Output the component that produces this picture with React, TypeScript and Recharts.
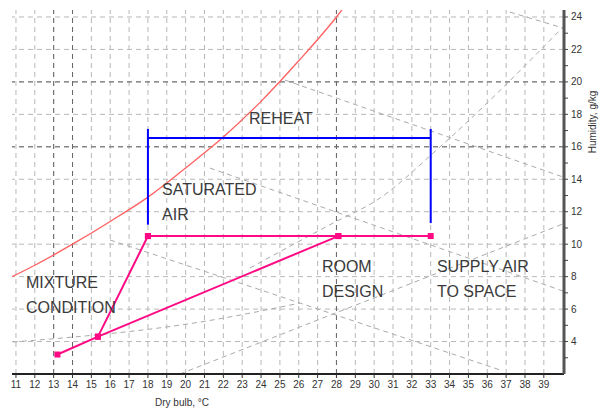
import { ComposedChart, Line, XAxis, YAxis, ReferenceLine, Scatter } from "recharts";

// psychrometric sketch: dry bulb (°C) vs humidity ratio (g/kg)
const dryBulbTicks = [11, 12, 13, 14, 15, 16, 17, 18, 19, 20, 21, 22, 23, 24, 25, 26, 27, 28, 29, 30, 31, 32, 33, 34, 35, 36, 37, 38, 39];
const humidityTicks = [3, 4, 5, 6, 7, 8, 9, 10, 11, 12, 13, 14, 15, 16, 17, 18, 19, 20, 21, 22, 23, 24];
const gridX = dryBulbTicks;
const gridY = [4, 6, 8, 10, 12, 14, 16, 18, 20, 22, 24];
const darkGridX = [13, 14, 28];
const darkGridY = [16, 20];

const saturation = [
  { x: 10.8, y: 8.0 },
  { x: 12, y: 8.7 },
  { x: 14, y: 10.0 },
  { x: 16, y: 11.4 },
  { x: 18, y: 12.9 },
  { x: 20, y: 14.7 },
  { x: 22, y: 16.6 },
  { x: 24, y: 18.8 },
  { x: 26, y: 21.3 },
  { x: 28, y: 24.0 },
  { x: 28.4, y: 24.6 },
];

// faint background lines (wet bulb / RH guides)
const guideLines = [
  [{ x: 37.2, y: 24.3 }, { x: 40.02, y: 23.32 }],
  [{ x: 25.27, y: 20.11 }, { x: 40.02, y: 14.14 }],
  [{ x: 21.29, y: 14.69 }, { x: 40.02, y: 7.11 }],
  [{ x: 15.99, y: 10.26 }, { x: 26.07, y: 6.37 }, { x: 36.68, y: 2.25 }],
  [{ x: 23.41, y: 8.53 }, { x: 27.82, y: 11.3 }, { x: 30.15, y: 12.72 }, { x: 33.49, y: 15.99 }, { x: 40.02, y: 23.38 }],
  [{ x: 19.7, y: 2.0 }, { x: 26.07, y: 4.9 }, { x: 40.02, y: 11.25 }],
  [{ x: 10.84, y: 3.97 }, { x: 20.76, y: 5.2 }, { x: 26.07, y: 6.37 }],
];

const mixingLine = [{ x: 13.2, y: 3.2 }, { x: 15.35, y: 4.3 }, { x: 28.1, y: 10.5 }];
const coilLine = [{ x: 15.35, y: 4.3 }, { x: 18, y: 10.5 }];
const supplyLine = [{ x: 18, y: 10.5 }, { x: 28.1, y: 10.5 }, { x: 33, y: 10.5 }];

const reheatLeft = [{ x: 18, y: 11.2 }, { x: 18, y: 17.1 }];
const reheatTop = [{ x: 18, y: 16.55 }, { x: 33, y: 16.55 }];
const reheatRight = [{ x: 33, y: 17.1 }, { x: 33, y: 11.3 }];

const annotations = [
  { x: 23.36, y: 17.4, text: "REHEAT" },
  { x: 18.75, y: 13.03, text: "SATURATED" },
  { x: 18.75, y: 11.49, text: "AIR" },
  { x: 11.53, y: 7.3, text: "MIXTURE" },
  { x: 11.53, y: 5.76, text: "CONDITION" },
  { x: 27.23, y: 8.28, text: "ROOM" },
  { x: 27.23, y: 6.74, text: "DESIGN" },
  { x: 33.33, y: 8.28, text: "SUPPLY AIR" },
  { x: 33.33, y: 6.74, text: "TO SPACE" },
];

const FONT = '"Liberation Sans", Arial, sans-serif';
const PINK = "#ff0a84";

const SquareDot = (p: any) => (
  <rect key={`${p.cx}-${p.cy}`} x={p.cx - 3} y={p.cy - 3} width={6} height={6} fill={PINK} />
);

const HumidityTick = (p: any) => {
  const v = p.payload.value;
  if (v % 2 !== 0 || v < 4) return <g />;
  return (
    <text x={p.x} y={p.y} dy={3.5} fontSize={10} fill="#333" fontFamily={FONT} textAnchor="start">
      {v}
    </text>
  );
};

const NoteText = (p: any) => (
  <text x={p.cx} y={p.cy} fontSize={16} fill="#3a3a3a" fontFamily={FONT}>
    {p.payload.text}
  </text>
);

export default function App() {
  return (
    <div style={{ position: "absolute", left: 0, top: 0, width: 600, height: 416, background: "#fff" }}>
      <ComposedChart width={600} height={416} margin={{ top: 10, right: 0, bottom: 0, left: 12 }}>
        <XAxis
          type="number"
          dataKey="x"
          domain={[10.79, 40.07]}
          allowDataOverflow
          ticks={dryBulbTicks}
          interval={0}
          height={42}
          tickSize={4}
          tickMargin={3}
          tick={{ fontSize: 10, fill: "#333", fontFamily: FONT }}
          axisLine={{ stroke: "#222", strokeWidth: 2 }}
          tickLine={{ stroke: "#333" }}
        />
        <YAxis
          type="number"
          dataKey="y"
          orientation="right"
          domain={[2, 24.43]}
          allowDataOverflow
          ticks={humidityTicks}
          interval={0}
          width={36}
          tickSize={4}
          tickMargin={3}
          tick={HumidityTick}
          axisLine={{ stroke: "#555", strokeWidth: 3 }}
          tickLine={{ stroke: "#444" }}
        />
        {gridX.map((v) => (
          <ReferenceLine key={`gx${v}`} x={v} stroke="#b8b8b8" strokeDasharray="5 4" />
        ))}
        {gridY.map((v) => (
          <ReferenceLine key={`gy${v}`} y={v} stroke="#b8b8b8" strokeDasharray="5 4" />
        ))}
        {darkGridX.map((v) => (
          <ReferenceLine key={`dx${v}`} x={v} stroke="#666" strokeDasharray="5 4" />
        ))}
        {darkGridY.map((v) => (
          <ReferenceLine key={`dy${v}`} y={v} stroke="#666" strokeDasharray="5 4" />
        ))}
        {guideLines.map((d, i) => (
          <Line key={`g${i}`} data={d} dataKey="y" type="monotone" stroke="#aaa" strokeWidth={1} strokeDasharray="5 4" dot={false} isAnimationActive={false} />
        ))}
        <Line data={saturation} dataKey="y" type="monotone" stroke="#ff6060" strokeWidth={1.3} dot={false} isAnimationActive={false} />
        <Line data={reheatLeft} dataKey="y" type="linear" stroke="#0000ff" strokeWidth={2} dot={false} isAnimationActive={false} />
        <Line data={reheatTop} dataKey="y" type="linear" stroke="#0000ff" strokeWidth={2} dot={false} isAnimationActive={false} />
        <Line data={reheatRight} dataKey="y" type="linear" stroke="#0000ff" strokeWidth={2} dot={false} isAnimationActive={false} />
        <Line data={mixingLine} dataKey="y" type="linear" stroke={PINK} strokeWidth={2} dot={SquareDot} isAnimationActive={false} />
        <Line data={coilLine} dataKey="y" type="linear" stroke={PINK} strokeWidth={2} dot={SquareDot} isAnimationActive={false} />
        <Line data={supplyLine} dataKey="y" type="linear" stroke={PINK} strokeWidth={2} dot={SquareDot} isAnimationActive={false} />
        <Scatter data={annotations} dataKey="y" shape={NoteText} isAnimationActive={false} />
      </ComposedChart>
      <div style={{ position: "absolute", left: 155, top: 397, fontSize: 10, lineHeight: "11px", fontFamily: FONT, color: "#333", whiteSpace: "nowrap" }}>
        Dry bulb, °C
      </div>
      <div
        style={{
          position: "absolute",
          left: 592,
          top: 122,
          fontSize: 10,
          lineHeight: "11px",
          fontFamily: FONT,
          color: "#333",
          whiteSpace: "nowrap",
          transform: "translate(-50%, -50%) rotate(-90deg)",
        }}
      >
        Humidity, g/kg
      </div>
    </div>
  );
}
